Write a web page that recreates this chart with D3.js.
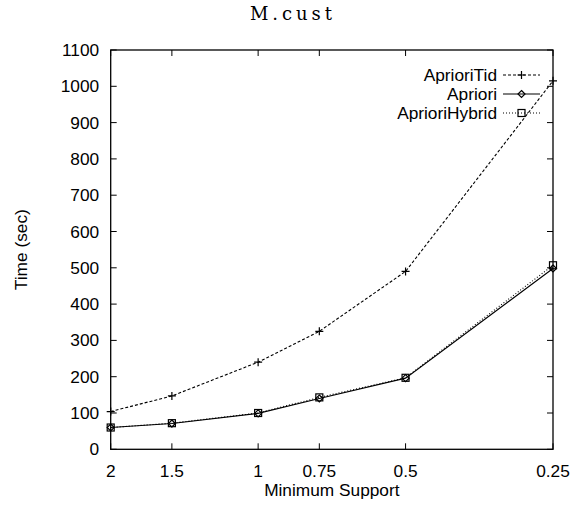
<!DOCTYPE html>
<html><head><meta charset="utf-8">
<script src="https://cdn.jsdelivr.net/npm/d3@7"></script>
<style>body{margin:0;background:#fff}</style>
</head><body>
<svg id="c" width="583" height="507"></svg>
<script>
const supports = [2, 1.5, 1, 0.75, 0.5, 0.25];
const tickLabels = ["2", "1.5", "1", "0.75", "0.5", "0.25"];
const aprioriTid = [104, 147, 240, 325, 490, 1015];
const apriori = [60, 71, 99, 140, 196, 498];
const aprioriHybrid = [60, 72, 100, 143, 197, 507];
const yTicks = [0,100,200,300,400,500,600,700,800,900,1000,1100];
const seriesNames = ["AprioriTid", "Apriori", "AprioriHybrid"];

const svg = d3.select("#c");
const L = 110.7, R = 553, T = 50, B = 449.3;
const x = d3.scaleLog().domain([2, 0.25]).range([L, R]);
const y = d3.scaleLinear().domain([0, 1100]).range([B, T]);
const font = "'Liberation Sans', Arial, sans-serif";
const fs = 17.3;

svg.append("rect").attr("x", L).attr("y", T).attr("width", R - L).attr("height", B - T)
  .attr("fill", "none").attr("stroke", "#000").attr("stroke-width", 1.3);

const tl = 6;
yTicks.forEach(v => {
  svg.append("line").attr("x1", L).attr("x2", L + tl).attr("y1", y(v)).attr("y2", y(v)).attr("stroke", "#000");
  svg.append("line").attr("x1", R).attr("x2", R - tl).attr("y1", y(v)).attr("y2", y(v)).attr("stroke", "#000");
  svg.append("text").attr("x", L - 11.5).attr("y", y(v) + 6).attr("text-anchor", "end")
    .attr("font-family", font).attr("font-size", fs).text(v);
});
supports.forEach((s, i) => {
  svg.append("line").attr("x1", x(s)).attr("x2", x(s)).attr("y1", B).attr("y2", B - tl).attr("stroke", "#000");
  svg.append("line").attr("x1", x(s)).attr("x2", x(s)).attr("y1", T).attr("y2", T + tl).attr("stroke", "#000");
  svg.append("text").attr("x", x(s)).attr("y", 477).attr("text-anchor", "middle")
    .attr("font-family", font).attr("font-size", fs).text(tickLabels[i]);
});

svg.append("text").attr("x", (L + R) / 2).attr("y", 496).attr("text-anchor", "middle")
  .attr("font-family", font).attr("font-size", fs).text("Minimum Support");
svg.append("text").attr("transform", `translate(27,${(T + B) / 2}) rotate(-90)`).attr("text-anchor", "middle")
  .attr("font-family", font).attr("font-size", fs).text("Time (sec)");
svg.append("text").attr("x", 250).attr("y", 20)
  .attr("font-family", "'DejaVu Serif',serif").attr("font-size", 18)
  .attr("textLength", 82).attr("lengthAdjust", "spacing").text("M.cust");

const line = d3.line().x((d, i) => x(supports[i])).y(d => y(d));
const styles = [
  {data: aprioriTid, dash: "3,2", marker: "plus"},
  {data: apriori, dash: null, marker: "diamond"},
  {data: aprioriHybrid, dash: "1,2", marker: "square"}
];
function drawMarker(g, type, cx, cy) {
  if (type === "plus") {
    g.append("path").attr("d", `M${cx-4},${cy}H${cx+4}M${cx},${cy-4}V${cy+4}`).attr("stroke", "#000").attr("stroke-width", 1.2).attr("fill", "none");
  } else if (type === "diamond") {
    g.append("path").attr("d", `M${cx},${cy-3.5}L${cx+3.5},${cy}L${cx},${cy+3.5}L${cx-3.5},${cy}Z`).attr("stroke", "#000").attr("stroke-width", 1.2).attr("fill", "none");
  } else {
    g.append("rect").attr("x", cx - 3.5).attr("y", cy - 3.5).attr("width", 7).attr("height", 7).attr("stroke", "#000").attr("stroke-width", 1.2).attr("fill", "none");
  }
}
styles.forEach((s, k) => {
  const g = svg.append("g");
  g.append("path").attr("d", line(s.data)).attr("fill", "none").attr("stroke", "#000")
    .attr("stroke-width", 1.1).attr("stroke-dasharray", s.dash);
  s.data.forEach((v, i) => drawMarker(g, s.marker, x(supports[i]), y(v)));
  const ly = 75 + k * 19;
  g.append("text").attr("x", 497).attr("y", ly + 6).attr("text-anchor", "end")
    .attr("font-family", font).attr("font-size", fs).text(seriesNames[k]);
  g.append("line").attr("x1", 503).attr("x2", 540).attr("y1", ly).attr("y2", ly).attr("stroke", "#000")
    .attr("stroke-width", 1.1).attr("stroke-dasharray", s.dash);
  drawMarker(g, s.marker, 521.5, ly);
});
</script>
</body></html>
